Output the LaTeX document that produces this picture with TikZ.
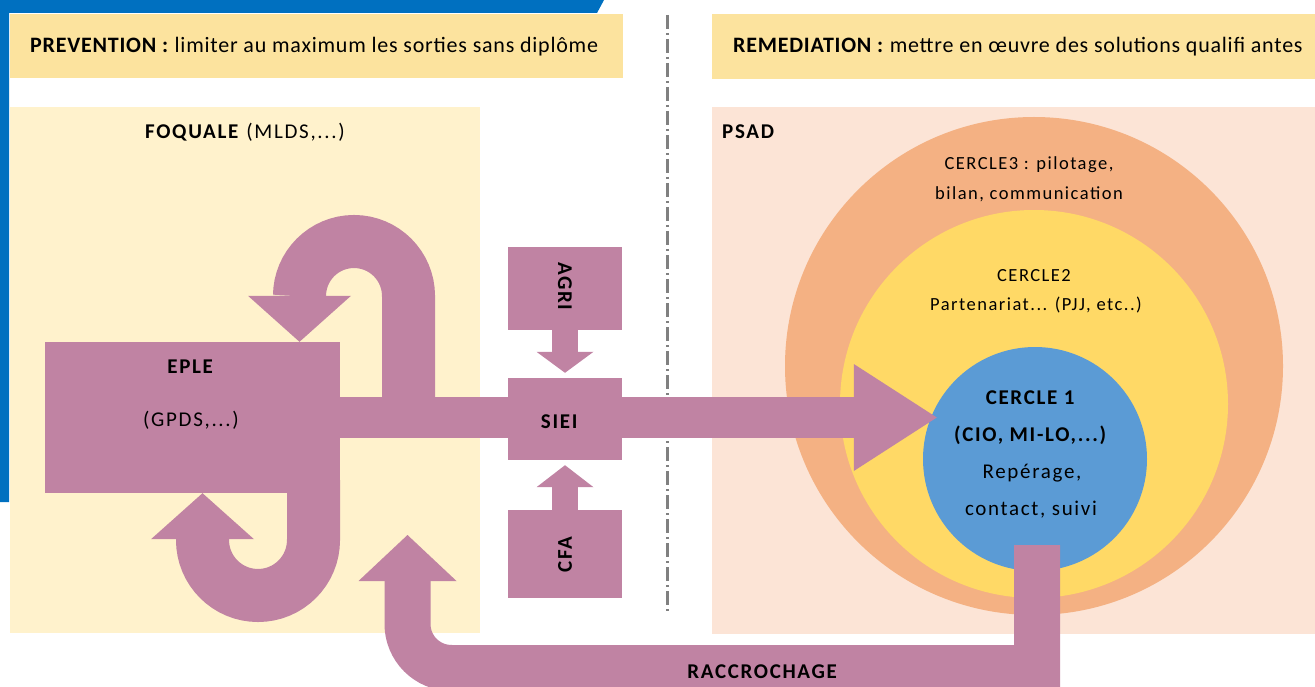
\documentclass[tikz,border=0pt]{standalone}
\usepackage{fontspec}
\setmainfont{Carlito}
\newfontfamily\headfamily[LetterSpace=3.5]{Carlito}
\newfontfamily\spacedfamily[LetterSpace=8]{Carlito}
\usepackage{tikz}
\usetikzlibrary{positioning,arrows.meta}

\definecolor{frameblue}{RGB}{0,112,192}
\definecolor{headyellow}{RGB}{252,227,158}
\definecolor{foqbg}{RGB}{255,242,204}
\definecolor{psadbg}{RGB}{252,228,214}
\definecolor{ringorange}{RGB}{244,177,131}
\definecolor{ringyellow}{RGB}{255,217,102}
\definecolor{ringblue}{RGB}{91,155,213}
\definecolor{flowpurple}{RGB}{192,131,163}
\definecolor{sepgray}{RGB}{128,128,128}

\begin{document}
\begin{tikzpicture}[x=1pt,y=-1pt,
      flow box/.style={rectangle,fill=flowpurple,inner sep=0pt},
      flow/.style={draw=flowpurple,line width=#1},
      ring/.style={circle,inner sep=0pt},
      head font/.style={font=\headfamily\fontsize{22}{26}\selectfont,inner sep=0pt},
      big font/.style={font=\spacedfamily\fontsize{21}{25}\selectfont,inner sep=0pt},
      ring font/.style={font=\spacedfamily\fontsize{18.5}{22}\selectfont,inner sep=0pt},
      sep line/.style={draw=sepgray,line width=3pt,dash pattern=on 14pt off 4pt on 2pt off 4pt}]

      \useasboundingbox (0,0) rectangle (1315,687);
      \clip (0,0) rectangle (1315,687);

      \fill[frameblue] (0,0) -- (604,0) -- (597,13) -- (9,13) -- (9,502) -- (0,502) -- cycle;
      \fill[headyellow] (10,14) rectangle (623,78);
      \fill[headyellow] (712,14) rectangle (1315,79);
      \fill[foqbg] (10,107) rectangle (480,633);
      \fill[psadbg] (712,107) rectangle (1315,634);
      \draw[sep line] (667,15) -- (667,612);

      \node[ring,fill=ringorange,minimum size=498pt] (cercle3) at (1034,366) {};
      \node[ring,fill=ringyellow,minimum size=388pt] (cercle2) at (1034,404) {};
      \node[ring,fill=ringblue,minimum size=224pt] (cercle1) at (1035,459) {};

      \node[flow box,minimum width=295pt,minimum height=151pt] (eple) at (192.5,417.5) {};
      \node[flow box,minimum width=114pt,minimum height=82pt] (siei) at (565,419) {};
      \node[flow box,minimum width=114pt,minimum height=83pt] (agri) [above=48pt of siei] {};
      \node[flow box,minimum width=114pt,minimum height=88pt] (cfa) [below=50pt of siei] {};

      \draw[flow=41pt,-{Triangle[width=107pt,length=83pt,line width=0pt]},shorten >=-14pt]
        (eple.east) -- (eple.east -| cercle1.west);
      \draw[flow=26pt,-{Triangle[width=57pt,length=21pt,line width=0pt]},shorten >=5pt]
        (agri.south) -- (siei.north);
      \draw[flow=26pt,-{Triangle[width=57pt,length=22pt,line width=0pt]},shorten >=5pt]
        (cfa.north) -- (siei.south);
      \draw[flow=53pt,-{Triangle[width=103pt,length=46pt,line width=0pt]}]
        (408.5,420) -- (408.5,296) arc[start angle=0,end angle=-180,radius=54.5] -- (eple.north -| 299.5,0);
      \draw[flow=53pt,-{Triangle[width=103pt,length=46pt,line width=0pt]}]
        (313.5,480) -- (313.5,540) arc[start angle=0,end angle=180,radius=55.5] -- (eple.south -| 202.5,0);
      \coordinate (hook) at (1037,545);
      \draw[flow=46pt,-{Triangle[width=98pt,length=46pt,line width=0pt]}]
        (hook) -- (1037,668) -- (451.5,668) arc[start angle=90,end angle=180,radius=44] -- (407.5,535);

      \node[head font,anchor=west] (prevtxt) at (30,47) {\textbf{PREVENTION :} limiter au maximum les sorties sans diplôme};
      \node[head font,anchor=west] (remtxt) at (733,47) {\textbf{REMEDIATION :} mettre en œuvre des solutions qualifi antes};
      \node[big font] (foqtxt) at (245,132) {\textbf{FOQUALE} (MLDS,...)};
      \node[big font,anchor=west] (psadtxt) at (722,132) {\textbf{PSAD}};
      \node[big font] (epletxt) at (191,367) {\textbf{EPLE}};
      \node[big font] (gpdstxt) at (191,420) {(GPDS,...)};
      \node[big font] (sieitxt) at (560,422) {\textbf{SIEI}};
      \node[big font,rotate=-90] (agritxt) at (565,287) {\textbf{AGRI}};
      \node[big font,rotate=90] (cfatxt) at (565,554) {\textbf{CFA}};
      \node[ring font] (c3a) at (1029,165) {CERCLE3 : pilotage,};
      \node[ring font] (c3b) at (1029,194) {bilan, communication};
      \node[ring font] (c2a) at (1034,276) {CERCLE2};
      \node[ring font] (c2b) at (1036,305) {Partenariat... (PJJ, etc..)};
      \node[big font] (c1a) at (1031,398) {\textbf{CERCLE 1}};
      \node[big font] (c1b) at (1031,435) {\textbf{(CIO, MI-LO,...)}};
      \node[big font] (c1c) at (1032,473) {Repérage,};
      \node[big font] (c1d) at (1031,510) {contact, suivi};
      \node[big font] (raccrotxt) at (763,672) {\textbf{RACCROCHAGE}};
\end{tikzpicture}
\end{document}
